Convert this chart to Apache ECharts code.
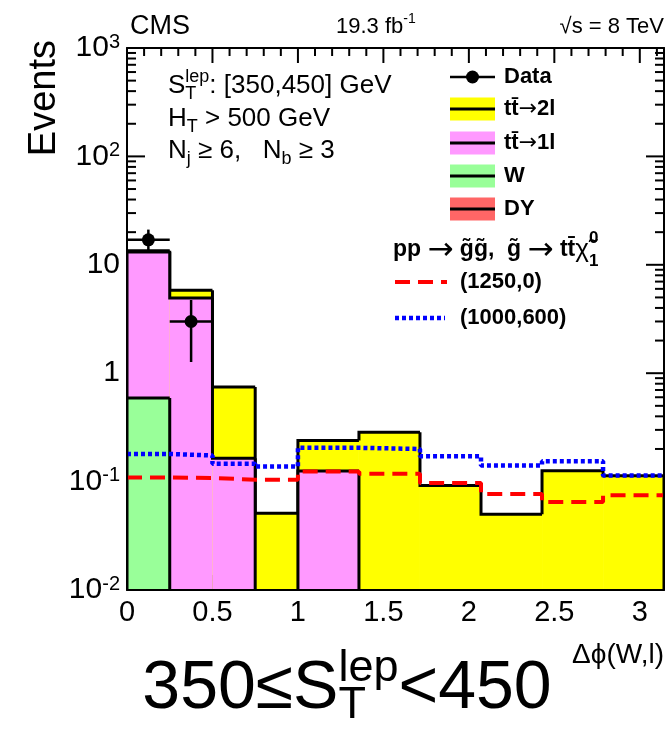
<!DOCTYPE html>
<html>
<head>
<meta charset="utf-8">
<script src="https://cdn.jsdelivr.net/npm/echarts@6/dist/echarts.min.js"></script>
<style>
  html, body { margin: 0; padding: 0; background: #fff; }
  #chart { width: 671px; height: 729px; }
</style>
</head>
<body>
<div id="chart"></div>
<script>
// Delta-phi(W,l) bins: four of width 0.25, then six equal bins up to pi
const binEdges = [0, 0.25, 0.5, 0.75, 1.0, 1.357, 1.714, 2.071, 2.428, 2.785, 3.1416];

// Background contributions per bin (events)
const dyEvents   = [0, 0, 0, 0, 0, 0, 0, 0, 0, 0];
const wEvents    = [0.59, 0, 0, 0, 0, 0, 0, 0, 0, 0];
const tt1lEvents = [12.5, 4.95, 0.164, 0, 0.125, 0, 0, 0, 0, 0];
const tt2lEvents = [0.4, 0.87, 0.58, 0.051, 0.114, 0.285, 0.092, 0.050, 0.126, 0.1135];

// Observed data per bin
const dataEvents = [17, 3, 0, 0, 0, 0, 0, 0, 0, 0];

// Signal benchmarks
const sig1250_0   = [0.109, 0.108, 0.104, 0.104, 0.124, 0.118, 0.097, 0.077, 0.065, 0.075];
const sig1000_600 = [0.180, 0.174, 0.146, 0.138, 0.205, 0.200, 0.171, 0.141, 0.154, 0.114];

// Tick positions
const xMajorTicks = [0, 0.5, 1, 1.5, 2, 2.5, 3];
const yMajorTicks = [0.01, 0.1, 1, 10, 100, 1000];

// ---------------------------------------------------------------
const FONT = '"Liberation Sans", Arial, Helvetica, sans-serif';
const ARROW_FONT = '"DejaVu Sans", sans-serif';
const nBins = binEdges.length - 1;
const X_MIN = 0, X_MAX = Math.PI;
const Y_MIN = 0.01, Y_MAX = 1000, FLOOR = 1e-4;

const xMinorTicks = [];
for (let i = 1; i <= 31; i++) { if (i % 5 !== 0) xMinorTicks.push(+(i * 0.1).toFixed(1)); }
const yMinorTicks = [];
for (let e = -2; e <= 2; e++) for (let k = 2; k <= 9; k++) yMinorTicks.push(+(k * Math.pow(10, e)).toPrecision(2));

// Cumulative stack, bottom to top: DY, W, tt->1l, tt->2l
const cumDY  = dyEvents.slice();
const cumW   = cumDY.map((v, i) => v + wEvents[i]);
const cum1l  = cumW.map((v, i) => v + tt1lEvents[i]);
const cumAll = cum1l.map((v, i) => v + tt2lEvents[i]);

function stackLayer(name, cum, color) {
  return {
    name, type: 'custom', clip: true, z: 2, silent: true,
    encode: { x: [0, 1], y: 2 },
    data: cum.map((v, i) => [binEdges[i], binEdges[i + 1], v, i > 0 ? cum[i - 1] : 0, i === nBins - 1 ? 1 : 0]),
    renderItem(params, api) {
      const v  = api.value(2) > 0 ? api.value(2) : FLOOR;
      const pv = api.value(3) > 0 ? api.value(3) : FLOOR;
      const pL = api.coord([api.value(0), v]);
      const pR = api.coord([api.value(1), v]);
      const pB = api.coord([api.value(1), FLOOR]);
      const pP = api.coord([api.value(0), pv]);
      const children = [
        { type: 'rect', shape: { x: pL[0], y: pL[1], width: pR[0] - pL[0], height: pB[1] - pL[1] },
          style: { fill: color } },
        { type: 'polyline', shape: { points: [pP, pL, pR] },
          style: { stroke: '#000', lineWidth: 3, fill: null, lineJoin: 'miter' } }
      ];
      if (api.value(4)) {
        children.push({ type: 'line', shape: { x1: pR[0], y1: pR[1], x2: pB[0], y2: pB[1] },
          style: { stroke: '#000', lineWidth: 3 } });
      }
      return { type: 'group', children };
    }
  };
}

function stepLine(name, vals, color, dash, width) {
  return {
    name, type: 'line', step: 'end', symbol: 'none', clip: true, z: 5, silent: true,
    data: binEdges.map((e, i) => [e, vals[Math.min(i, nBins - 1)]]),
    lineStyle: { color, width, type: dash, cap: 'butt' }
  };
}

const dataSeries = {
  name: 'Data', type: 'custom', clip: false, z: 30, silent: true,
  encode: { x: 0, y: 1 },
  data: dataEvents.map((n, i) => [(binEdges[i] + binEdges[i + 1]) / 2, n, binEdges[i], binEdges[i + 1]])
                  .filter(d => d[1] > 0),
  renderItem(params, api) {
    const x = api.value(0), y = api.value(1), err = Math.sqrt(y);
    const c = api.coord([x, y]);
    const l = api.coord([api.value(2), y]);
    const r = api.coord([api.value(3), y]);
    const t = api.coord([x, y + err]);
    const b = api.coord([x, Math.max(y - err, FLOOR)]);
    const st = { stroke: '#000', lineWidth: 2.5 };
    return { type: 'group', children: [
      { type: 'line', shape: { x1: l[0], y1: l[1], x2: r[0], y2: r[1] }, style: st },
      { type: 'line', shape: { x1: t[0], y1: t[1], x2: b[0], y2: b[1] }, style: st },
      { type: 'circle', shape: { cx: c[0], cy: c[1], r: 6.5 }, style: { fill: '#000' } }
    ] };
  }
};

// ---- axes: frame lines and labels ----
function xAxisDef(position, withLabels) {
  return {
    type: 'value', min: X_MIN, max: X_MAX, position, z: 20,
    splitLine: { show: false },
    axisLine: { show: true, onZero: false, lineStyle: { color: '#000', width: 2 } },
    axisTick: { show: false },
    axisLabel: withLabels ? {
      show: true, customValues: xMajorTicks, margin: 8, color: '#000',
      fontFamily: FONT, fontSize: 29, formatter: v => String(+v.toFixed(1))
    } : { show: false }
  };
}
function yAxisDef(position, withLabels) {
  return {
    type: 'log', logBase: 10, min: Y_MIN, max: Y_MAX, position, z: 20,
    splitLine: { show: false },
    axisLine: { show: true, onZero: false, lineStyle: { color: '#000', width: 2 } },
    axisTick: { show: false },
    axisLabel: withLabels ? {
      show: true, customValues: yMajorTicks, margin: 7, color: '#000',
      formatter: v => {
        const e = Math.round(Math.log10(v));
        if (e === 0) return '{b|1}';
        if (e === 1) return '{b|10}';
        return '{b|10}{s|' + e + '}';
      },
      rich: {
        b: { fontFamily: FONT, fontSize: 30, lineHeight: 32, color: '#000' },
        s: { fontFamily: FONT, fontSize: 20, lineHeight: 18, verticalAlign: 'top', color: '#000' }
      }
    } : { show: false }
  };
}

// ---- text helpers ----
const mctx = document.createElement('canvas').getContext('2d');
function textWidth(t, size, weight, family) {
  mctx.font = `${weight} ${size}px ${family || FONT}`;
  return mctx.measureText(t).width;
}
function textEl(x, y, t, size, weight, family) {
  return { type: 'text', x, y, silent: true, z: 50, style: {
    text: t, font: `${weight} ${size}px ${family || FONT}`, fill: '#000',
    align: 'left', textAlign: 'left', verticalAlign: 'middle', textVerticalAlign: 'middle' } };
}
// parts: plain strings, {t, family, weight, size} glyph runs, or {sub, sup} scripts stacked after the previous glyph
function partWidth(p, size, weight, small) {
  if (typeof p === 'string') return textWidth(p, size, weight);
  if (p.t != null) return textWidth(p.t, p.size || size, p.weight || weight, p.family);
  return Math.max(p.sub ? textWidth(p.sub, small, weight) : 0, p.sup ? textWidth(p.sup, small, weight) : 0);
}
function textRun(x, y, parts, size, weight, opt) {
  opt = opt || {};
  const ratio = opt.ratio || 0.68;
  const small = Math.round(size * ratio);
  const supDy = opt.supDy != null ? opt.supDy : -0.36 * size;
  const subDy = opt.subDy != null ? opt.subDy : 0.30 * size;
  const total = parts.reduce((s, p) => s + partWidth(p, size, weight, small), 0);
  if (opt.alignRight) x -= total;
  if (opt.center) x -= total / 2;
  const els = [];
  for (const p of parts) {
    if (typeof p === 'string') {
      els.push(textEl(x, y, p, size, weight));
    } else if (p.t != null) {
      els.push(textEl(x, y + (p.dy || 0), p.t, p.size || size, p.weight || weight, p.family));
    } else {
      if (p.sup) els.push(textEl(x, y + supDy, p.sup, small, weight));
      if (p.sub) els.push(textEl(x, y + subDy, p.sub, small, weight));
    }
    x += partWidth(p, size, weight, small);
  }
  return els;
}
const ARROW = { t: '\u2192', family: ARROW_FONT, weight: 'normal' };
const LONG_ARROW = { t: '\u2192', family: ARROW_FONT, weight: 'normal', size: 31, dy: 1 };

// ---- legend / annotations ----
const graphics = [];
// header
graphics.push(...textRun(130, 27, ['CMS'], 27, 'normal'));
graphics.push(...textRun(336, 27, ['19.3 fb', { sup: '-1' }], 22, 'normal', { ratio: 0.65 }));
graphics.push(...textRun(664, 27, ['\u221As = 8 TeV'], 22, 'normal', { alignRight: true }));
// y title
graphics.push({ type: 'text', x: 45, y: 40, rotation: Math.PI / 2, silent: true, style: {
  text: 'Events', font: `normal 38px ${FONT}`, fill: '#000',
  align: 'right', textAlign: 'right', verticalAlign: 'middle', textVerticalAlign: 'middle' } });
// selection text
graphics.push(...textRun(168, 86, ['S', { sub: 'T', sup: 'lep' }, ': [350,450] GeV'], 26, 'normal'));
graphics.push(...textRun(168, 119, ['H', { sub: 'T' }, ' > 500 GeV'], 26, 'normal'));
graphics.push(...textRun(168, 151, ['N', { sub: 'j' }, ' \u2265 6,   N', { sub: 'b' }, ' \u2265 3'], 26, 'normal'));

// legend entries
const LX = 450, LW = 45, LT = 504;
graphics.push({ type: 'line', silent: true, shape: { x1: LX, y1: 77, x2: LX + LW, y2: 77 }, style: { stroke: '#000', lineWidth: 2.5 } });
graphics.push({ type: 'circle', silent: true, shape: { cx: LX + LW / 2, cy: 77, r: 6.5 }, style: { fill: '#000' } });
graphics.push(...textRun(LT, 77, ['Data'], 22, 'bold'));
const boxes = [
  { y: 109, color: '#ffff00', label: ['tt\u0304', ARROW, '2l'] },
  { y: 143, color: '#ff99ff', label: ['tt\u0304', ARROW, '1l'] },
  { y: 176, color: '#99ff99', label: ['W'] },
  { y: 209, color: '#ff6666', label: ['DY'] }
];
for (const b of boxes) {
  graphics.push({ type: 'rect', silent: true, shape: { x: LX, y: b.y - 11.5, width: LW, height: 23 }, style: { fill: b.color } });
  graphics.push({ type: 'line', silent: true, shape: { x1: LX, y1: b.y, x2: LX + LW, y2: b.y }, style: { stroke: '#000', lineWidth: 3 } });
  graphics.push(...textRun(LT, b.y, b.label, 22, 'bold'));
}
graphics.push(...textRun(393, 250,
  ['pp ', LONG_ARROW, ' g\u0303g\u0303,  g\u0303 ', LONG_ARROW, ' tt\u0304', { t: '\u03C7\u0303', weight: 'normal', size: 26 }, { sub: '1', sup: '0' }],
  23, 'bold', { ratio: 0.75, supDy: -12, subDy: 11 }));
graphics.push({ type: 'line', silent: true, shape: { x1: 395, y1: 282, x2: 447, y2: 282 }, style: { stroke: '#ff0000', lineWidth: 4, lineDash: [15, 8] } });
graphics.push(...textRun(460, 282, ['(1250,0)'], 22, 'bold'));
graphics.push({ type: 'line', silent: true, shape: { x1: 395, y1: 318, x2: 445, y2: 318 }, style: { stroke: '#0000ff', lineWidth: 4.5, lineDash: [4, 3] } });
graphics.push(...textRun(460, 318, ['(1000,600)'], 22, 'bold'));

// x title and bin label
graphics.push(...textRun(664, 655, ['\u0394\u03D5(W,l)'], 28, 'normal', { alignRight: true }));
graphics.push(...textRun(347, 689, ['350\u2264S', { sub: 'T', sup: 'lep' }, '<450'], 68, 'normal',
  { center: true, ratio: 0.66, supDy: -20, subDy: 17 }));

const chart = echarts.init(document.getElementById('chart'), null, { renderer: 'canvas' });
chart.setOption({
  animation: false,
  backgroundColor: '#fff',
  grid: { left: 127, right: 7, top: 48, bottom: 139, containLabel: false, outerBoundsMode: 'none' },
  xAxis: [ xAxisDef('bottom', true), xAxisDef('top', false) ],
  yAxis: [ yAxisDef('left', true), yAxisDef('right', false) ],
  series: [
    stackLayer('tt->2l', cumAll, '#ffff00'),
    stackLayer('tt->1l', cum1l, '#ff99ff'),
    stackLayer('W', cumW, '#99ff99'),
    stackLayer('DY', cumDY, '#ff6666'),
    stepLine('(1250,0)', sig1250_0, '#ff0000', [15, 8], 4),
    stepLine('(1000,600)', sig1000_600, '#0000ff', [4, 3], 4.5),
    dataSeries
  ],
  graphic: { elements: graphics }
});

// Inward tick marks on all four sides of the frame, positioned through the axis scales
function pxX(v) { const p = chart.convertToPixel({ gridIndex: 0 }, [v, 1]); return p[0]; }
function pxY(v) { const p = chart.convertToPixel({ gridIndex: 0 }, [1, v]); return p[1]; }
const frameL = pxX(X_MIN), frameR = pxX(X_MAX), frameB = pxY(Y_MIN), frameT = pxY(Y_MAX);
const tickStyle = { stroke: '#000', lineWidth: 2 };
const tickEls = [];
function addXTicks(vals, len) {
  for (const v of vals) {
    const x = pxX(v);
    tickEls.push({ type: 'line', silent: true, shape: { x1: x, y1: frameB, x2: x, y2: frameB - len }, style: tickStyle });
    tickEls.push({ type: 'line', silent: true, shape: { x1: x, y1: frameT, x2: x, y2: frameT + len }, style: tickStyle });
  }
}
function addYTicks(vals, len) {
  for (const v of vals) {
    const y = pxY(v);
    tickEls.push({ type: 'line', silent: true, shape: { x1: frameL, y1: y, x2: frameL + len, y2: y }, style: tickStyle });
    tickEls.push({ type: 'line', silent: true, shape: { x1: frameR, y1: y, x2: frameR - len, y2: y }, style: tickStyle });
  }
}
addXTicks(xMajorTicks, 15);
addXTicks(xMinorTicks, 8);
addYTicks(yMajorTicks, 18);
addYTicks(yMinorTicks, 9);
chart.setOption({ graphic: { elements: graphics.concat(tickEls) } });
</script>
</body>
</html>
